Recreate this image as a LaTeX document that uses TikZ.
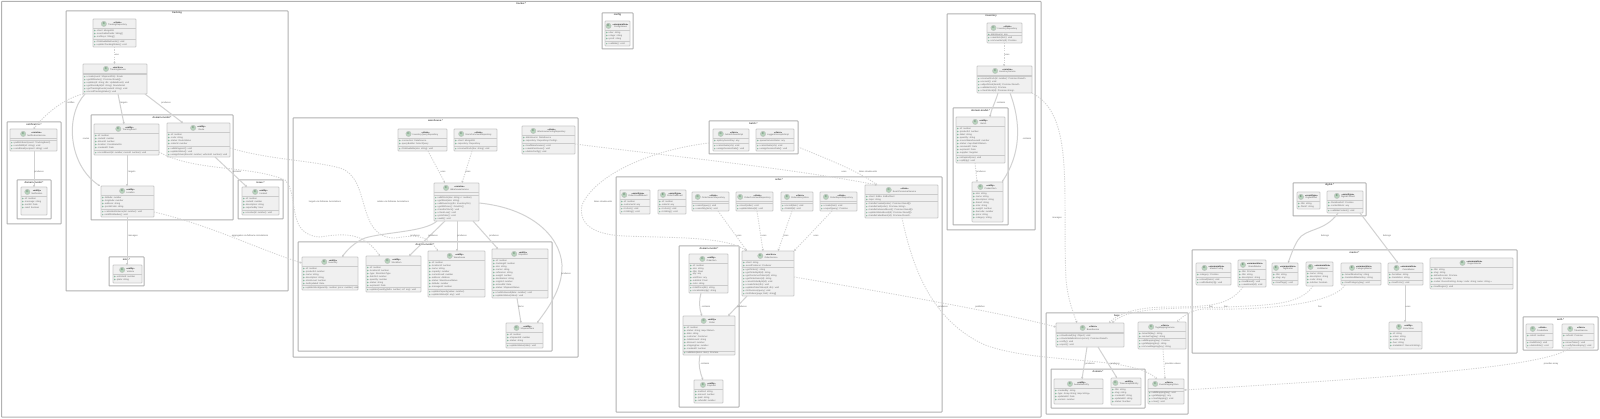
\documentclass[tikz,border=0pt]{standalone}
\usepackage{fontspec}
\setmainfont{Liberation Sans}
\usetikzlibrary{arrows.meta}
\definecolor{clsfill}{HTML}{F0F0F0}
\definecolor{clsline}{HTML}{CBCBCB}
\definecolor{pkgline}{HTML}{B2B2B2}
\definecolor{conline}{HTML}{D2D2D2}
\definecolor{dashline}{HTML}{D4D4D4}
\definecolor{tipcol}{HTML}{707070}
\definecolor{spot}{HTML}{B7D2BC}
\definecolor{mkcol}{HTML}{8DBBA2}
\definecolor{lettertone}{HTML}{6E8A76}
\tikzset{
  x=1pt,y=-1pt,
  clsbox/.style={draw=clsline,fill=clsfill,line width=.8pt,rounded corners=.8pt,inner sep=0,outer sep=0},
  pkgbox/.style={draw=pkgline,line width=1pt,inner sep=0,outer sep=0,rounded corners=.5pt},
  pkgtitle/.style={font=\fontsize{2.5}{3}\selectfont\bfseries,inner sep=0,text=black!70},
  hdr/.style={font=\fontsize{2.2}{2.7}\selectfont,align=center,inner sep=0,text=black!60},
  spotc/.style={circle,draw=black!25,fill=spot,line width=.3pt,minimum size=5.4pt,inner sep=0,font=\fontsize{3}{3}\selectfont\bfseries,text=lettertone},
  mem/.style={font=\fontsize{2.25}{3}\selectfont,anchor=west,inner sep=0,text=black!58},
  lab/.style={font=\fontsize{2.25}{3}\selectfont,inner sep=.2pt,text=black!60},
  divl/.style={draw=clsline,line width=.4pt},
  solidc/.style={draw=conline,line width=1pt,-{Stealth[length=2.2pt,width=2.2pt,fill=tipcol]}},
  dashc/.style={draw=dashline,line width=.9pt,dash pattern=on 1.2pt off 1.2pt,-{Stealth[length=2.2pt,width=2.2pt,fill=tipcol]}},
}
\newcount\labn
\newcommand{\lab}[3]{\global\advance\labn by 1 \node[lab] (lab\the\labn) at (#1,#2) {#3};}
\newcommand{\pkg}[6]{%
  \pgfmathsetmacro\pw{#4-#2}\pgfmathsetmacro\ph{#5-#3}%
  \node[pkgbox,minimum width=\pw pt,minimum height=\ph pt,anchor=north west] (#1) at (#2,#3) {};
  \node[pkgtitle] (#1t) at ({(#2+#4)/2},{#3+2.2}) {#6};
}
\def\clsL{C}
\newcommand{\cls}[9]{%
  \pgfmathsetmacro\cw{#4-#2}\pgfmathsetmacro\ch{#5-#3}%
  \node[clsbox,minimum width=\cw pt,minimum height=\ch pt,anchor=north west] (#1) at (#2,#3) {};
  \node[hdr] (#1h) at ({(#2+#4)/2+3},{#3+4.9}) {\textcolor{black!85}{\textbf{«#6»}}\\#7};
  \node[spotc] (#1c) at ([xshift=-4pt]#1h.west) {\clsL};
  \draw[divl] ({#2},{#3+9.5}) -- ({#4},{#3+9.5});
  \def\tmpa{#8}\ifx\tmpa\empty\else
  \foreach \t [count=\n] in {#8} {
    \pgfmathsetmacro\yy{#3+9.5+3*\n-1}
    \draw[mkcol,line width=.3pt] ({#2+1.7},\yy) circle (.65);
    \node[mem] (#1a\n) at ({#2+3.2},\yy) {\t};
  }\fi
  \def\tmpb{#9}\ifx\tmpb\empty\else
  \foreach \t [count=\n] in {#9} {\global\let\nmeth\n}
  \pgfmathsetmacro\dd{#5-3*\nmeth-1.3}
  \draw[divl] ({#2},\dd) -- ({#4},\dd);
  \foreach \t [count=\n] in {#9} {
    \pgfmathsetmacro\yy{#5-3*(\nmeth-\n)-2.3}
    \fill[mkcol] ({#2+1.7},\yy) circle (.75);
    \node[mem] (#1m\n) at ({#2+3.2},\yy) {\t};
  }\fi
}
\begin{document}
\begin{tikzpicture}
\useasboundingbox (0,0) rectangle (1600,419);
\fill[white] (0,0) rectangle (1600,419);
% ---------- packages
\pkg{outer}{1.5}{1.5}{1041}{417}{tracker.*}
\pkg{ptrack}{66}{11}{288}{291}{tracking}
\pkg{ptrackm}{91}{115}{233}{220}{domain.model.*}
\pkg{pnotif}{7}{122}{61}{224}{notification.*}
\pkg{pnotifm}{17}{180}{51}{219}{domain.model.*}
\pkg{pissue}{238}{180}{283}{219}{issue.*}
\pkg{pmisc}{109}{257}{144}{286}{misc.*}
\pkg{pware}{293}{118}{578}{357}{warehouse.*}
\pkg{pwarem}{298}{242}{552}{351}{domain.model.*}
\pkg{pconf}{602}{13}{633}{49}{config}
\pkg{psec}{709}{121}{798}{154}{batch.*}
\pkg{porder}{616}{177}{942}{412}{order.*}
\pkg{porderm}{679}{246}{739}{407}{domain.model.*}
\pkg{pcust}{947}{14}{1035}{230}{inventory}
\pkg{pcustm}{953}{108}{1008}{225}{domain.model.*}
\pkg{pbase}{1046}{313}{1188}{414}{base}
\pkg{pbasem}{1051}{369}{1145}{408}{domain.*}
\pkg{pdigi}{1293}{183}{1366}{216}{digital.*}
\pkg{pmast}{1192}{250}{1517}{353}{master.*}
\pkg{pauth}{1523}{317}{1598}{350}{auth.*}
% ---------- tracking
\cls{trkrepo}{93}{19}{136}{47}{class}{TrackingRepository}{-client: MongoDB,-searchableFields: String[],-sortKeys: String[]}{+findAvailableEvents(): void,+updateTrackingStatus(): void}
\cls{trksvc}{83}{64}{147}{94}{service}{TrackingService}{}{+create(event: ShipmentDto): Route,+getAllRoutes(): Promise<Route[]>,+update(id: string; dto: UpdateEvent): void,+getRouteById(id: string): RouteDetail,+getTrackingEvents(routeId: string): void,+recordTrackingStatus(): void}
\cls{trkevent}{94}{124}{159}{155}{entity}{TrackingEvent}{-id: number,-routeId: number,-driverId: number,-location: CoordinateDto,-createdAt: Date}{+recordEvent(id: number; routeId: number): void}
\cls{trkdrv}{167}{123}{230}{157}{entity}{Route}{-id: number,-code: string,-status: RouteStatus,-orderId: number}{+addWaypoint(): void,+updateStatus(): void,+assignDriver(driverId: number; vehicleId: number): void}
\cls{trkloc}{101}{186}{154}{217}{entity}{Location}{-latitude: number,-longitude: number,-address: string,-postalCode: string}{+calculateDistance(lat: number): void,+isWithinRadius(): void}
\cls{notif}{10}{129}{57}{151}{service}{NotificationService}{}{+publishEvent(event: TrackingEvent),+sendSMS(id: string): void,+sendEmail(recipient: string): void}
\cls{notifm}{21}{187}{47}{215}{entity}{Notification}{-id: number,-message: string,-sentAt: Date,-read: boolean}{}
\cls{issue}{242}{187}{279}{215}{entity}{Incident}{-id: number,-routeId: number,-description: string,-reportedBy: User}{+resolve(id: number): void}
\cls{miscv}{113}{265}{142}{283}{entity}{Vehicle}{-vehicleId: number,-plate: string}{}
% ---------- warehouse
\cls{whreq}{398}{129}{447}{151}{class}{InventoryQueryRepository}{-connection: DataSource,-queryBuilder: SelectQuery}{+findAvailable(sku: string): void}
\cls{whcmd}{454}{129}{497}{151}{class}{StockCommandRepository}{-client: MongoDB,-repository: Repository}{+reserveStock(sku: string): void}
\cls{whrep}{522}{126}{575}{154}{class}{WarehouseConfigRepository}{-dataSource: DataSource,-repository: Repository<Config>}{+loadWarehouses(): void,+saveWarehouse(): void,+deleteConfig(): void}
\cls{whsvc}{434}{183}{479}{221}{service}{WarehouseService}{}{+addStock(sku: string; n: number),+getStock(sku: string),+addInventory(dto: InventoryDto),+getAllZones(): ZoneDto[],+transferStock(): void,+checkLow(): void,+pickOrder(): void,+audit(): void}
\cls{whrack}{302}{257}{358}{290}{entity}{Inventory}{-id: number,-productId: number,-name: string,-description: string,-stockLevel: number,-lastUpdated: Date}{+updateStock(quantity: number; price: number): void}
\cls{whzone}{366}{256}{421}{292}{entity}{StockItem}{-id: number,-locationId: number,-type: StockItemType,-batchId: number,-quantity: number,-status: string,-expiresAt: Date}{+updateQuantity(delta: number; ref: any): void}
\cls{whprod}{428}{251}{485}{297}{entity}{Warehouse}{-id: number,-locationId: number,-name: string,-capacity: number,-currentLoad: number,-address: Address,-status: WarehouseStatus,-latitude: number,-managerId: number}{+updateCapacity(value: number),+updateStatus(id: any): void}
\cls{whship}{492}{249}{548}{298}{entity}{Shipment}{-id: number,-trackingId: number,-sku: string,-carrier: string,-reference: string,-weight: number,-destination: string,-originId: number,-arrivedAt: Date,-status: ShipmentStatus}{+markDelivered(date: number): void,+updateStatus(status): void}
\cls{whitem}{506}{323}{543}{348}{entity}{ShipmentItem}{-id: number,-shipmentId: number,-status: string}{+updateStatus(state): void}
% ---------- misc
\def\clsL{E}
\cls{conf}{605}{21}{630}{46}{enumeration}{ConfigValues}{+dev: string,+stage: string,+prod: string}{+validate(): void}
\def\clsL{C}
\cls{secA}{713}{129}{749}{151}{class}{JwtAuthGuardImpl}{-apiKeySecretKey: any}{+canActivate(ctx): void,+assignSessionData(): void}
\cls{secB}{756}{129}{794}{151}{class}{LoggerInterceptorImpl}{-queueServiceName: any}{+canActivate(ctx): void,+assignSessionData(): void}
% ---------- order
\def\clsL{E}
\cls{oevA}{620}{190}{650}{214}{eventtype}{OrderCreatedEvent}{-id: number,-customerId: any}{+toJson(): void,+toString(): void}
\cls{oevB}{658}{190}{686}{214}{eventtype}{OrderPaidEvent}{-id: number,-orderId: any}{+toJson(): void,+toString(): void}
\def\clsL{C}
\cls{orA}{692}{192}{729}{211}{class}{OrderSearchRepository}{}{+search(query): void,+searchBy(term): void}
\cls{orB}{736}{192}{773}{211}{class}{OrderCommandRepository}{}{+insert(order): void,+updateStatus(id): void}
\cls{orC}{781}{192}{813}{211}{class}{OrderHistoryStore}{}{+record(item): void,+findAll(id): void}
\cls{orD}{820}{192}{857}{211}{class}{OrderReportRepository}{}{+create(item): void,+export(query): Promise}
\cls{ocons}{865}{185}{938}{218}{class}{EventConsumerService}{-client: Kafka: KafkaClient,-topic: string}{+handleCreated(order): Promise<Result[]>,+handlePaid(order): Promise<string>,+handleDeliveredEvent(): Promise<Result[]>,+updateStatusEvent(id): Promise<Result[]>,+handleFailedEvent(id): Promise<Result>}
\cls{osvc}{742}{251}{794}{296}{service}{OrderService}{-client: string,-eventProducer: Producer}{+getOrders(): string,+getOrderById(id): string,+getCustomerOrders(id): string,+getOrderItems(id): string,+cancelOrderById(id): void,+createOrder(dto): void,+updateOrderStatus(id; dto): void,+listInvoices(query): void,+listOrders(page; limit): string[]}
\cls{ocust}{689}{254}{728}{293}{entity}{OrderItem}{-id: number,-sku: string,-title: Float,-qty: any,-unitPrice: any,-subtotal: Float,-note: string}{+totalPrice(dto): string,+recalculate(qty): string}
\cls{oord}{683}{316}{735}{355}{entity}{Order}{-id: number,-status: string; map<Status>,-date: string,-customer: Customer,-totalAmount: string,-discount: number,-shippingFee: number,-createdAt: number}{+addItem(items: Item): Promise}
\cls{opay}{694}{380}{723}{403}{entity}{Payment}{-method: string,-amount: number,-paid: string,-refundId: number}{}
% ---------- inventory
\cls{invrep}{987}{23}{1022}{43}{class}{InventoryRepository}{-dataSource: any}{+saveItem(item): void,+removeItem(id): Promise}
\cls{invsvc}{977}{66}{1032}{93}{service}{InventoryService}{}{+reserveStock(id: number): Promise<Result>,+recount(): void,+adjustStock(itemId): Promise<Result>,+validateStock(): Promise,+checkStock(id): Promise<string>}
\cls{invbat}{956}{117}{1005}{163}{entity}{Batch}{-id: number,-productId: number,-label: string,-quantity: string,-sourceWarehouseId: number,-status: map<BatchStatus>,-receivedAt: Date,-expiresAt: Date,-supplier: Supplier}{+isExpired(now): void,+split(qty): void}
\cls{invitem}{972}{182}{1003}{222}{entity}{ProductItem}{-sku: string,-name: string,-description: string,-brand: string,-size: string,-weight: number,-barcode: number,-price: string,-category: string}{}
% ---------- base
\cls{basesvc}{1056}{323}{1124}{347}{class}{BaseService}{}{+showResult(log: Object): void,+showValidationErrors(errors): Promise<Result>,+notify(): void,+report(): void}
\cls{basetag}{1138}{322}{1186}{349}{class}{TagMappingService}{-tenantId(key): string,-resolveTag(key): string}{+addMapping(key): Promise,+getMapping(key): string,+removeMapping(key): string}
\cls{baseA}{1054}{379}{1103}{404}{entity}{AuditableEntity}{-createdBy: string,-type: Array<string; map<string>>,-updatedAt: Date,-version: number}{}
\cls{baseB}{1111}{378}{1141}{405}{entity}{TimestampedEntity}{-title: string,-slug: string,-createdAt: string,-updatedAt: string,-status: Number}{}
\cls{basemap}{1148}{379}{1184}{404}{class}{EventMappingStore}{}{+addMapping(key): void,+getMapping(): any,+clearMapping(): void,+clear(): void}
% ---------- digital
\def\clsL{E}
\cls{digiA}{1297}{192}{1320}{209}{eventtype}{DigitalAsset}{-title: string,-fileUrl: string}{}
\cls{digiB}{1327}{191}{1363}{213}{eventtype}{DigitalContent}{-thumbnailUrl: Promise,-contentBlock: any}{+validateContent(): void}
% ---------- master
\cls{mA}{1196}{263}{1231}{285}{enumeration}{MasterConfig}{-category: Promise}{+reload(items): void,+setDefaults(cfg): void}
\cls{mB}{1238}{260}{1266}{287}{enumeration}{BrandMaster}{-title: Promise,-title: string,-description: string}{+loadBrand(): void,+saveBrand(id): void}
\cls{mC}{1272}{263}{1298}{285}{enumeration}{TagMaster}{-title: string,-slug: any}{+loadTags(): void}
\cls{mD}{1306}{262}{1333}{286}{enumeration}{UnitMaster}{-name: string,-description: string,-code: string,-isActive: boolean}{}
\cls{mE}{1341}{263}{1381}{285}{enumeration}{CategoryMaster}{-tenantMasterKey: string,-translatedMasterKey: string}{+loadCategory(key): void}
\cls{mF}{1388}{263}{1423}{285}{enumeration}{ColorMaster}{-hexValue: string,-translation: string}{+loadColor(): void}
\cls{mG}{1430}{258}{1513}{289}{enumeration}{RegionMaster}{-title: string,-slug: string,-defaultLocale: Promise,-country: Promise,-codes: Record<string; Array<{ code: string; name: string }>>}{+loadRegion(): void}
\def\clsL{C}
\cls{mH}{1389}{322}{1422}{349}{entity}{ColorValue}{-id: string,-value: string,-code: string,-hue: string,-metadata?: Record<string>}{}
% ---------- auth
\cls{authA}{1526}{324}{1553}{348}{class}{CreateRole}{-roleId: number}{+buildRole(): void,+deleteRole(): void}
\cls{authB}{1562}{324}{1594}{348}{class}{TokenService}{-refresh: Promise}{+issueToken(): void,+verifyTokenExpiry(): void}
% ---------- connectors: tracking
\draw[dashc] (trkrepo.south) -- (trksvc.north -| trkrepo.south); \lab{117}{55}{use}
\draw[dashc] (trksvc.south west) .. controls (70,97) and (50,108) .. (notif.north); \lab{71}{103}{notifies}
\draw[solidc] (trksvc.south west -| 85,0) .. controls (65,115) and (68,165) .. (trkloc.north -| 100,0); \lab{86}{139}{routes}
\draw[solidc] (trksvc.south -| 118,0) -- (trkevent.north -| 124,0); \lab{124}{103}{targets}
\draw[solidc] (trksvc.south -| 145,0) -- (trkdrv.north -| 183,0); \lab{166}{103}{produces}
\draw[solidc] (trkevent.south -| 127,0) -- (trkloc.north -| 127,0); \lab{132}{172}{targets}
\draw[solidc] (notif.south -| 34,0) -- (notifm.north -| 34,0); \lab{39}{172}{produces}
\draw[solidc] (trkdrv.south -| 215,0) -- (issue.north -| 247,0); \lab{237}{172}{contains}
\draw[solidc] (trkloc.south -| 127,0) -- (miscv.north -| 127,0); \lab{133}{236}{manages}
\draw[dashc] (trkloc.east |- 0,212) .. controls (210,225) and (260,250) .. (whrack.west |- 0,263); \lab{250}{236}{aggregates via fullname Annotations}
\draw[dashc] (trkevent.east |- 0,152) .. controls (195,172) and (250,165) .. (285,180) .. controls (300,195) and (285,235) .. (320,237) .. controls (350,232) and (365,235) .. (whzone.north -| 380,0); \lab{325}{202}{targets via fullname Annotations}
\draw[dashc] (trkdrv.east |- 0,148) .. controls (270,160) and (310,160) .. (340,168) .. controls (372,178) and (355,238) .. (395,238) .. controls (410,236) and (425,232) .. (whprod.north -| 438,0); \lab{393}{202}{relates via fullname Annotations}
% ---------- connectors: warehouse
\draw[dashc] (whreq.south -| 428,0) -- (whsvc.north -| 445,0); \lab{443}{172}{uses}
\draw[dashc] (whcmd.south -| 472,0) -- (whsvc.north -| 462,0); \lab{468}{172}{uses}
\draw[solidc] (whsvc.south -| 437,0) .. controls (425,232) and (385,232) .. (365,238) .. controls (355,242) and (347,250) .. (whrack.north -| 342,0); \lab{415}{236}{produces}
\draw[solidc] (whsvc.south -| 445,0) -- (whzone.north -| 409,0); \lab{433}{236}{produces}
\draw[solidc] (whsvc.south -| 457,0) -- (whprod.north -| 457,0); \lab{462}{236}{produces}
\draw[solidc] (whsvc.south -| 473,0) -- (whship.north -| 498,0); \lab{494}{236}{produces}
\draw[solidc] (whsvc.east |- 0,203) .. controls (530,208) and (560,235) .. (562,265) .. controls (563,290) and (545,312) .. (whitem.north -| 537,0); \lab{566}{274}{produces}
\draw[solidc] (whship.south -| 517,0) -- (whitem.north -| 521,0); \lab{521}{307}{items}
\draw[dashc] (whrep.east |- 0,144) .. controls (660,155) and (790,168) .. (ocons.north -| 877,0); \lab{844}{172}{uses}
\draw[dashc] (psec.east |- 0,147) .. controls (830,160) and (860,172) .. (ocons.north -| 877,0); \lab{868}{172}{takes cloudevents}
\draw[dashc] (psec.west |- 0,143) .. controls (650,150) and (595,175) .. (582,205) .. controls (578,225) and (595,235) .. (625,236) .. controls (670,238) and (725,236) .. (osvc.north -| 747,0); \lab{603}{202}{takes cloudevents}
% ---------- connectors: order
\draw[dashc] (orA.south -| 718,0) -- (osvc.north -| 747,0); \lab{739}{236}{uses}
\draw[dashc] (orB.south -| 757,0) -- (osvc.north -| 763,0); \lab{764}{236}{uses}
\draw[dashc] (orC.south -| 792,0) -- (osvc.north -| 778,0); \lab{786}{236}{uses}
\draw[dashc] (orD.south -| 832,0) -- (osvc.north east); \lab{816}{236}{uses}
\draw[solidc] (osvc.south -| 747,0) -- (oord.north -| 728,0); \lab{742}{307}{produces}
\draw[solidc] (ocust.south -| 701,0) .. controls (699,300) and (699,308) .. (oord.north -| 702,0); \lab{706}{307}{contains}
\draw[solidc] (oord.south -| 700,0) .. controls (698,365) and (700,372) .. (opay.north -| 703,0); \lab{705}{364}{contains}
\draw[dashc] (osvc.east |- 0,277) .. controls (860,288) and (1000,312) .. (basesvc.west |- 0,327); \lab{980}{307}{publishes}
\draw[dashc] (ocons.south -| 902,0) .. controls (912,265) and (930,320) .. (985,345) .. controls (1040,365) and (1130,355) .. (basemap.north -| 1157,0); \lab{943}{307}{produces}
% ---------- connectors: inventory
\draw[dashc] (invrep.south -| 1004,0) -- (invsvc.north -| 1004,0); \lab{1007}{55}{uses}
\draw[solidc] (invsvc.south -| 998,0) .. controls (995,103) and (991,110) .. (invbat.north -| 990,0); \lab{1001}{103}{contains}
\draw[solidc] (invsvc.south -| 1010,0) .. controls (1022,125) and (1020,155) .. (invitem.north -| 1002,0); \lab{1027}{139}{contains}
\draw[dashc] (invbat.south -| 975,0) -- (invitem.north -| 977,0); \lab{981}{172}{produces}
\draw[dashc] (invsvc.east |- 0,93) .. controls (1075,115) and (1062,190) .. (1066,280) .. controls (1068,300) and (1073,312) .. (basesvc.north -| 1077,0); \lab{1057}{218}{manages}
% ---------- connectors: base and master
\draw[solidc] (basesvc.south -| 1087,0) -- (baseA.north -| 1082,0); \lab{1090}{364}{produces}
\draw[solidc] (basesvc.south -| 1098,0) -- (baseB.north -| 1117,0); \lab{1115}{364}{produces}
\draw[dashc] (basetag.south -| 1163,0) -- (basemap.north -| 1165,0); \lab{1173}{364}{provides values}
\draw[dashc] (mB.south -| 1243,0) .. controls (1230,305) and (1210,307) .. (1170,307) .. controls (1140,307) and (1120,312) .. (basesvc.north -| 1109,0); \lab{1211}{307}{has}
\draw[dashc] (mD.south -| 1313,0) .. controls (1300,305) and (1270,305) .. (1227,307) .. controls (1190,309) and (1130,305) .. (basesvc.north -| 1112,0); \lab{1226}{307}{has}
\draw[dashc] (mE.south -| 1345,0) .. controls (1330,308) and (1240,310) .. (1205,309) .. controls (1195,309) and (1185,314) .. (basetag.north -| 1177,0); \lab{1320}{307}{has}
\draw[solidc] (digiB.south -| 1338,0) .. controls (1325,232) and (1305,228) .. (1298,240) .. controls (1294,246) and (1291,255) .. (mC.north -| 1288,0); \lab{1325}{236}{belongs}
\draw[solidc] (digiB.south -| 1360,0) -- (mF.north -| 1398,0); \lab{1387}{236}{belongs}
\draw[solidc] (mF.south -| 1405,0) -- (mH.north -| 1405,0); \lab{1408}{307}{uses}
\draw[dashc] (authB.south -| 1570,0) .. controls (1545,368) and (1380,378) .. (basemap.east |- 0,390); \lab{1551}{364}{provides array}
\end{tikzpicture}
\end{document}
